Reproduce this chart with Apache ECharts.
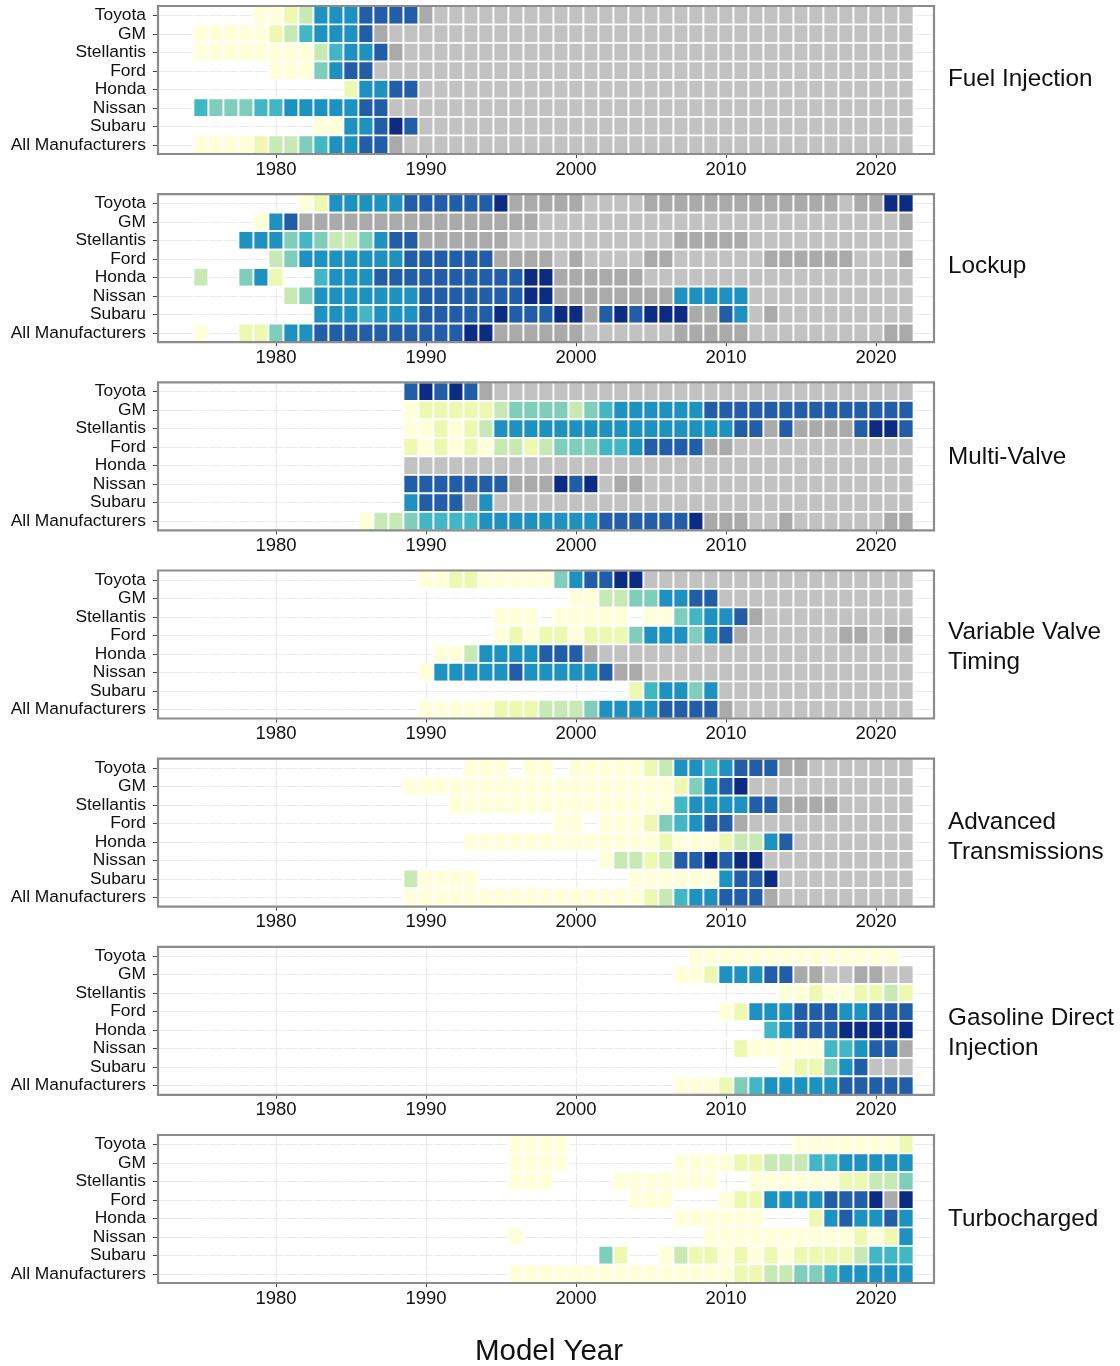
<!DOCTYPE html>
<html><head><meta charset="utf-8">
<script src="https://cdn.jsdelivr.net/npm/echarts@6/dist/echarts.min.js"></script>
<style>html,body{margin:0;padding:0;background:#fff}#chart{width:1120px;height:1366px}</style>
</head><body><div id="chart"></div>
<script>
// ---- data ----
const makers = ['Toyota','GM','Stellantis','Ford','Honda','Nissan','Subaru','All Manufacturers'];
const panelTitles = ['Fuel Injection','Lockup','Multi-Valve','Variable Valve\nTiming','Advanced\nTransmissions','Gasoline Direct\nInjection','Turbocharged'];
const firstYear = 1975;   // each row string covers model years 1975..2022, grouped by 5 years
const yearTicks = [1980, 1990, 2000, 2010, 2020];
// codes: '.' no production, '1'..'8' share level (low -> high), 'a' dark gray, 'b' light gray
const fuelInjection = [
  "....1 12366 67777 abbbb bbbbb bbbbb bbbbb bbbbb bbbbb bbb",
  "11111 23566 67abb bbbbb bbbbb bbbbb bbbbb bbbbb bbbbb bbb",
  "11111 11135 667ab bbbbb bbbbb bbbbb bbbbb bbbbb bbbbb bbb",
  "..... 11146 77bbb bbbbb bbbbb bbbbb bbbbb bbbbb bbbbb bbb",
  "..... ..... 26677 bbbbb bbbbb bbbbb bbbbb bbbbb bbbbb bbb",
  "54445 56666 677bb bbbbb bbbbb bbbbb bbbbb bbbbb bbbbb bbb",
  "..... ...11 66787 bbbbb bbbbb bbbbb bbbbb bbbbb bbbbb bbb",
  "11112 33456 677ab bbbbb bbbbb bbbbb bbbbb bbbbb bbbbb bbb"
];
const lockup = [
  "..... ..126 66667 77777 8aaaa abbbb aaaaa aaaaa aaaba a88",
  "....1 67aaa aaaaa aaaaa aaabb bbbbb bbbbb bbbbb bbbbb bba",
  "...66 64543 34677 aaaaa abbbb bbbbb bbaaa aabbb bbbbb bbb",
  "..... 34666 66667 77777 aaaab abbbb aabbb bbbaa aaaab bba",
  "3..46 2..56 66777 77777 7788a aaaaa bbbbb bbbbb bbbbb bbb",
  "..... .3466 66666 77777 7788a aaaaa aa666 66bbb bbbbb bbb",
  "..... ...66 65666 77777 87778 8a787 888aa 76bab bbbbb bbb",
  "1..22 46677 77777 77788 aaaaa abbbb bbaaa aabbb bbbbb baa"
];
const multiValve = [
  "..... ..... ....7 8787a bbbbb bbbbb bbbbb bbbbb bbbbb bbb",
  "..... ..... ....1 22222 34444 34566 66667 77777 77777 777",
  "..... ..... ....1 12123 66666 66666 66666 677a7 aaaa7 887",
  "..... ..... ....2 12121 33234 44556 7777a abbbb bbbbb bbb",
  "..... ..... ....b bbbbb bbbbb bbbbb bbbbb bbbbb bbbbb bbb",
  "..... ..... ....7 77777 7aaa8 78baa bbbbb bbbbb bbbbb bbb",
  "..... ..... ....6 777a6 bbbbb bbbbb bbbbb bbbbb bbbbb bbb",
  "..... ..... .1334 55556 66666 66777 7778a aabba bbbbb baa"
];
const variableValveTiming = [
  "..... ..... ..... 11221 11114 67788 bbbbb bbbbb bbbbb bbb",
  "..... ..... ..... ..... ..... 11334 46677 bbbbb bbbbb bbb",
  "..... ..... ..... ..... 111.1 1111. 11456 67abb bbbbb bbb",
  "..... ..... ..... ..... 12122 12224 66646 7abbb bbbaa baa",
  "..... ..... ..... .1136 66677 7abbb bbbbb bbbbb bbbbb bbb",
  "..... ..... ..... 16666 67666 667aa bbbbb bbbbb bbbbb bbb",
  "..... ..... ..... ..... ..... ....2 56646 bbbbb bbbbb bbb",
  "..... ..... ..... 11111 22233 34666 67777 abbbb bbbbb bbb"
];
const advancedTransmissions = [
  "..... ..... ..... ...11 1.11. 11111 23665 6777a abbbb bbb",
  "..... ..... ....1 11111 11111 11111 11246 78bbb bbbbb bbb",
  "..... ..... ..... ..111 11111 11111 11566 6677a aaabb bbb",
  "..... ..... ..... ..... ....1 1.111 24567 7abbb bbbbb bbb",
  "..... ..... ..... ...11 11111 11111 12111 23367 bbbbb bbb",
  "..... ..... ..... ..... ..... ..133 23778 788bb bbbbb bbb",
  "..... ..... ....3 1111. ..... ....1 11111 6778b bbbbb bbb",
  "..... ..... ....1 11111 11111 11111 23566 777ab bbbbb bbb"
];
const gasolineDirectInjection = [
  "..... ..... ..... ..... ..... ..... ...11 11111 11111 11.",
  "..... ..... ..... ..... ..... ..... ..112 66677 aabba abb",
  "..... ..... ..... ..... ..... ..... ..... ....1 12112 232",
  "..... ..... ..... ..... ..... ..... ..... 12666 77766 777",
  "..... ..... ..... ..... ..... ..... ..... ...56 77788 888",
  "..... ..... ..... ..... ..... ..... ..... .2111 11556 77a",
  "..... ..... ..... ..... ..... ..... ..... ....1 22467 bbb",
  "..... ..... ..... ..... ..... ..... ..111 24566 66677 777"
];
const turbocharged = [
  "..... ..... ..... ..... .1111 ..... ..... ..... 11111 112",
  "..... ..... ..... ..... .1111 ..... ..111 12233 35566 666",
  "..... ..... ..... ..... .111. ...11 11111 ..111 11122 334",
  "..... ..... ..... ..... ..... ....1 11... 12266 66777 8a8",
  "..... ..... ..... ..... ..... ..... ..111 111.. .2676 676",
  "..... ..... ..... ..... .1... ..... ....1 11111 11112 126",
  "..... ..... ..... ..... ..... ..42. .1322 12121 22223 555",
  "..... ..... ..... ..... .1111 11111 11111 12233 44566 666"
];
const panels = [fuelInjection, lockup, multiValve, variableValveTiming, advancedTransmissions, gasolineDirectInjection, turbocharged];

// ---- styles / layout ----
const palette = [null,'#ffffd9','#edf8b1','#c7e9b4','#7fcdbb','#41b6c4','#1d91c0','#225ea8','#0c2c84','#aaaaaa','#c2c2c2'];
const codeLevel = {'.':0,'1':1,'2':2,'3':3,'4':4,'5':5,'6':6,'7':7,'8':8,'a':9,'b':10};
const FONT = '"Liberation Sans", Arial, Helvetica, sans-serif';
const gridLeft = 158, gridWidth = 776, gridHeight = 148, firstTop = 6, step = 188.17;
const xMin = 1972.133, xMax = 2023.867;
const titleCenterY = [79, 266, 457, 647, 837, 1033, 1219];

const chart = echarts.init(document.getElementById('chart'), null, {renderer: 'canvas'});
const grids = [], xAxes = [], yAxes = [], series = [], graphics = [];

panels.forEach((rows, p) => {
  const top = firstTop + p * step;
  grids.push({left: gridLeft, top: top, width: gridWidth, height: gridHeight, show: true, z: 10,
    backgroundColor: 'transparent', borderColor: '#8c8c8c', borderWidth: 2.2});
  xAxes.push({type: 'value', gridIndex: p, min: xMin, max: xMax, splitNumber: 5,
    axisLine: {show: false},
    axisTick: {show: true, length: 4, customValues: yearTicks, lineStyle: {color: '#444', width: 1}},
    axisLabel: {customValues: yearTicks, fontSize: 18.5, color: '#111', margin: 6, fontFamily: FONT,
      formatter: v => String(v)},
    splitLine: {show: true, lineStyle: {color: '#ebebeb', width: 1.2}}});
  yAxes.push({type: 'category', gridIndex: p, data: makers, inverse: true,
    axisLine: {show: false},
    axisTick: {show: true, length: 5, alignWithLabel: true, interval: 0, lineStyle: {color: '#444', width: 1}},
    axisLabel: {fontSize: 17.4, color: '#111', margin: 12, fontFamily: FONT, interval: 0},
    splitLine: {show: true, alignWithLabel: true, interval: 0, lineStyle: {color: '#ebebeb', width: 1.2}}});
  const data = [];
  rows.forEach((s, r) => {
    const codes = s.replace(/ /g, '');
    for (let c = 0; c < codes.length; c++) {
      data.push([firstYear + c, r, codeLevel[codes[c]]]);
    }
  });
  series.push({type: 'custom', xAxisIndex: p, yAxisIndex: p, clip: false, silent: true,
    encode: {x: 0, y: 1},
    data: data,
    renderItem: function (params, api) {
      const lv = api.value(2);
      const c = api.coord([api.value(0), api.value(1)]);
      const w = api.size([1, 0])[0];
      const h = api.size([0, 1])[1];
      return {type: 'rect', shape: {x: c[0] - w / 2, y: c[1] - h / 2, width: w, height: h},
        style: {fill: lv ? palette[lv] : 'transparent', stroke: '#ffffff', lineWidth: 1.7}};
    }});
  graphics.push({type: 'text', z: 20,
    style: {text: panelTitles[p], font: '24.3px ' + FONT, fill: '#111', lineHeight: 30,
      verticalAlign: 'middle', align: 'left', x: 948, y: titleCenterY[p]}});
});

graphics.push({type: 'text', z: 20,
  style: {text: 'Model Year', font: '29.5px ' + FONT, fill: '#111', align: 'center', verticalAlign: 'middle',
    x: gridLeft + gridWidth / 2 + 3, y: 1352}});

chart.setOption({
  animation: false,
  backgroundColor: '#ffffff',
  grid: grids, xAxis: xAxes, yAxis: yAxes, series: series,
  graphic: graphics
});
</script>
</body></html>
